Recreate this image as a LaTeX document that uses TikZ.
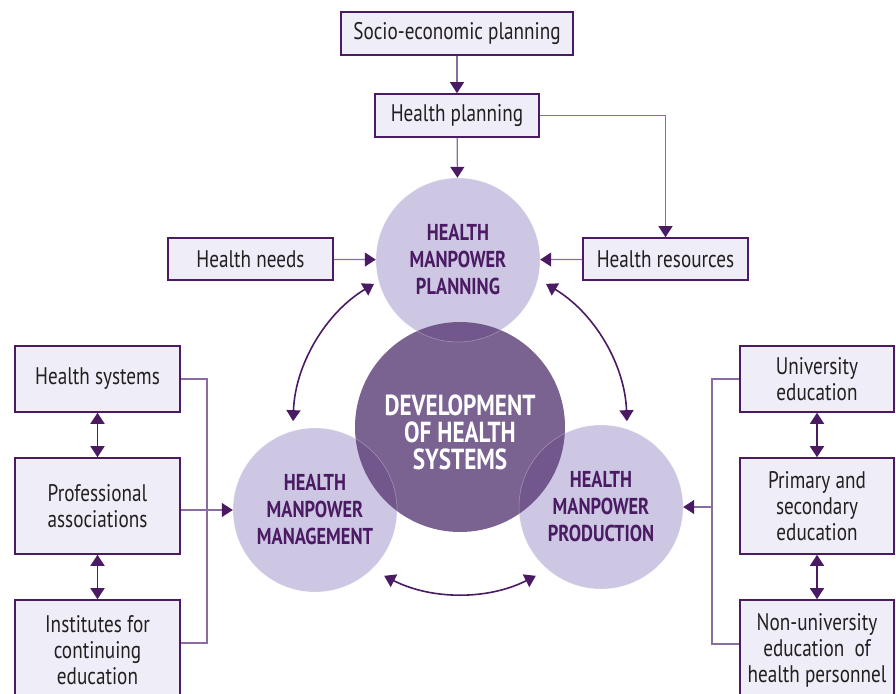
\documentclass[tikz,border=0pt]{standalone}
\usepackage{fontspec}
\setmainfont[FakeStretch=0.8]{PT Sans}
\usetikzlibrary{arrows.meta}

\definecolor{hmdark}{HTML}{4A1B63}
\definecolor{hmline}{HTML}{8A6CA3}
\definecolor{hmbox}{HTML}{EFEDF7}
\definecolor{hmlight}{HTML}{CDC7E4}
\definecolor{hmdeep}{HTML}{5A3C76}
\definecolor{hmtext}{HTML}{231F20}

\tikzset{
	box/.style = {draw=hmdark, fill=hmbox, line width=1.6pt, text=hmtext, align=center,
		inner sep=0pt, font=\fontsize{24}{26}\selectfont},
	hmcircle/.style = {circle, fill=hmlight, minimum size=164pt, inner sep=0pt, align=center,
		text=hmdark, font=\fontsize{23}{27}\selectfont\bfseries},
	devcircle/.style = {circle, fill=hmdeep, fill opacity=0.8, minimum size=210pt, inner sep=0pt},
	devtext/.style = {align=center, text=white, inner sep=0pt, font=\fontsize{29}{27}\selectfont\bfseries},
	conn/.style = {hmline, line width=1.2pt},
	arr/.style = {conn, -{Triangle[length=11pt, width=14pt, color=hmdark]}},
	dbl/.style = {hmdark, line width=1.6pt, {Triangle[length=11pt, width=14pt]}-{Triangle[length=11pt, width=14pt]}}
}

\begin{document}
\begin{tikzpicture}[x=1pt, y=-1pt]
	\useasboundingbox (0,0) rectangle (896,693);

	\node[hmcircle] (plan) at (458,260) {HEALTH\\MANPOWER\\PLANNING};
	\node[hmcircle] (mgmt) at (315,510) {HEALTH\\MANPOWER\\MANAGEMENT};
	\node[hmcircle] (prod) at (601,507) {HEALTH\\MANPOWER\\PRODUCTION};
	\node[devcircle] (dev) at (460,427) {};
	\node[devtext] (devlbl) at (460,432) {DEVELOPMENT\\OF HEALTH\\SYSTEMS};
	\foreach \c in {plan, mgmt, prod}
		\draw[white, opacity=0.35, line width=0.5pt] (\c) circle[radius=82pt];

	\node[box, minimum width=232pt, minimum height=43pt] (socio) at (457,33.5) {Socio-economic planning};
	\node[box, minimum width=164pt, minimum height=43pt] (hplan) at (457,115.5) {Health planning};
	\node[box, minimum width=165pt, minimum height=42pt] (needs) at (250.5,259) {Health needs};
	\node[box, minimum width=165pt, minimum height=42pt] (res) at (665.5,259) {Health resources};

	\node[box, minimum width=165pt, minimum height=66pt] (hsys) at (97.5,379) {Health systems};
	\node[box, minimum width=165pt, minimum height=96pt] (prof) at (97.5,506) {Professional\\associations};
	\node[box, minimum width=165pt, minimum height=100pt] (inst) at (97.5,650) {Institutes for\\continuing\\education};

	\node[box, minimum width=154pt, minimum height=66pt] (univ) at (817,379) {University\\education};
	\node[box, minimum width=154pt, minimum height=96pt] (prim) at (817,506) {Primary and\\secondary\\education};
	\node[box, minimum width=154pt, minimum height=100pt] (nonuni) at (817,650) {Non-university\\education\ \ of\\health personnel};

	\draw[arr] (socio) -- (hplan);
	\draw[arr] (hplan) -- (plan);
	\draw[arr] (hplan.east) -| (res.north);
	\draw[arr] (needs) -- (plan);
	\draw[arr] (res) -- (plan);

	\coordinate (ltop) at (207,379);
	\coordinate (lbot) at (207,643);
	\draw[conn] (hsys.east) -- (ltop) -- (lbot) -- (lbot -| inst.east);
	\draw[arr] (prof.east |- mgmt.west) -- (mgmt.west);

	\coordinate (rtop) at (712,379);
	\coordinate (rbot) at (712,644);
	\draw[conn] (univ.west) -- (rtop) -- (rbot) -- (rbot -| nonuni.west);
	\draw[arr] (rtop |- prod.east) -- (prod.east);

	\draw[dbl] (hsys) -- (prof);
	\draw[dbl] (prof) -- (inst);
	\draw[dbl] (univ) -- (prim);
	\draw[dbl] (prim) -- (nonuni);

	\draw[dbl] ([shift={(121:167pt)}]dev.center) arc[start angle=121, end angle=178, radius=167pt];
	\draw[dbl] ([shift={(59:167pt)}]dev.center) arc[start angle=59, end angle=2, radius=167pt];
	\draw[dbl] ([shift={(-117:167pt)}]dev.center) arc[start angle=-117, end angle=-63, radius=167pt];
\end{tikzpicture}
\end{document}
